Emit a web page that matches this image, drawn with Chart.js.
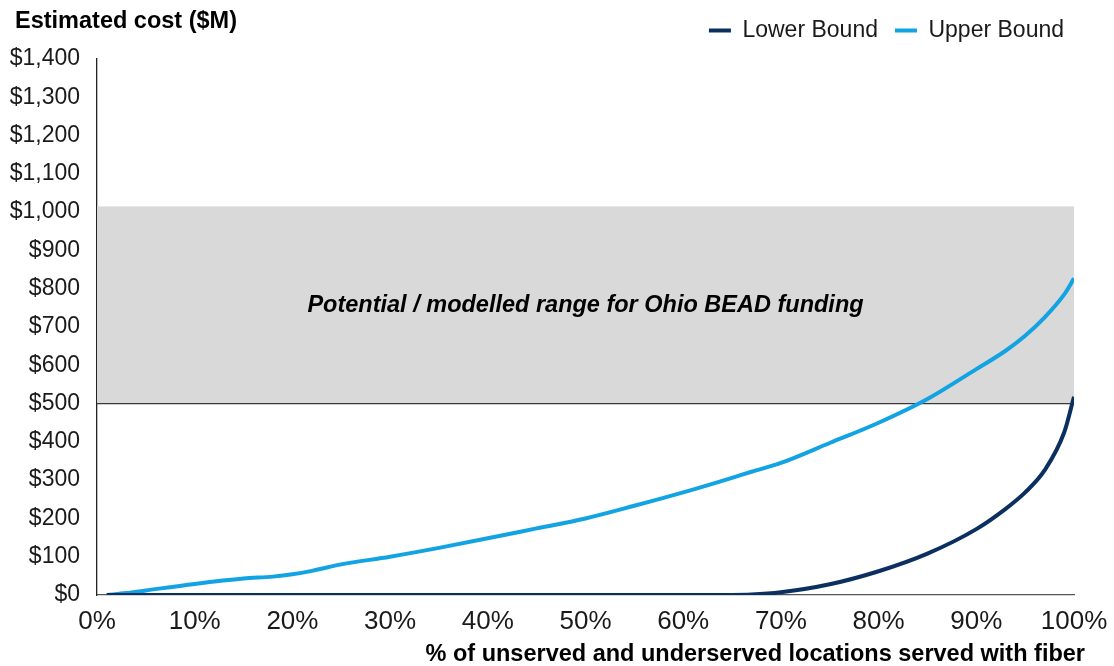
<!DOCTYPE html>
<html>
<head>
<meta charset="utf-8">
<script src="https://cdn.jsdelivr.net/npm/chart.js@4.4.1/dist/chart.umd.min.js"></script>
<style>
  html, body { margin: 0; padding: 0; background: #ffffff; }
  #wrap { width: 1114px; height: 666px; }
</style>
</head>
<body>
<div id="wrap"><canvas id="c" width="1114" height="666"></canvas></div>
<script>
// Share of unserved / underserved locations served with fiber (%)
const pctServed = [1, 3, 5, 10, 15, 18, 20, 22, 25, 30, 35, 40, 45, 50, 55, 60, 65, 67, 70, 75, 80, 85, 90, 93, 95, 97, 99, 100];
// Estimated cost ($M)
const lowerBound = [0, 0, 0, 0, 0, 0, 0, 0, 0, 0, 0, 0, 0, 0, 0, 0, 0, 1, 7, 28, 62, 108, 172, 225, 268, 326, 425, 518];
const upperBound = [0, 5, 12, 29, 43, 48, 54, 63, 80, 100, 123, 148, 174, 200, 233, 268, 306, 322, 345, 397, 450, 512, 590, 638, 677, 725, 785, 827];

// Funding range band ($M)
const bandLow = 500;
const bandHigh = 1015;
const bandLabel = 'Potential / modelled range for Ohio BEAD funding';
const bandLabelAt = { x: 50, y: 755 };

const yTickMin = 0, yTickMax = 1400, yTickStep = 100;
const xTickMin = 0, xTickMax = 100, xTickStep = 10;

const yTitle = 'Estimated cost ($M)';
const xTitle = '% of unserved and underserved locations served with fiber';

const FONT = '"Liberation Sans", Arial, sans-serif';

const bandPlugin = {
  id: 'fundingBand',
  beforeLayout(chart) {
    // extra gap between the legend row and the plot
    const lg = chart.legend;
    if (lg && !lg._extraGap) {
      const baseFit = lg.fit;
      lg.fit = function () { baseFit.call(this); this.height += 7; };
      lg._extraGap = true;
    }
  },
  beforeDatasetsDraw(chart) {
    const { ctx, chartArea, scales } = chart;
    const yTop = scales.y.getPixelForValue(bandHigh);
    const yBot = scales.y.getPixelForValue(bandLow);
    ctx.save();
    ctx.fillStyle = '#d9d9d9';
    ctx.fillRect(chartArea.left, yTop, chartArea.right - chartArea.left, yBot - yTop);
    ctx.strokeStyle = '#3a3a3a';
    ctx.lineWidth = 1.3;
    ctx.beginPath();
    ctx.moveTo(chartArea.left, yBot);
    ctx.lineTo(chartArea.right, yBot);
    ctx.stroke();
    ctx.fillStyle = '#000000';
    ctx.font = 'italic bold 23.5px ' + FONT;
    ctx.textAlign = 'center';
    ctx.textBaseline = 'middle';
    ctx.fillText(bandLabel, scales.x.getPixelForValue(bandLabelAt.x), scales.y.getPixelForValue(bandLabelAt.y));
    ctx.restore();
  },
  afterDraw(chart) {
    const { ctx, chartArea } = chart;
    ctx.save();
    ctx.fillStyle = '#000000';
    ctx.font = 'bold 23.5px ' + FONT;
    ctx.textBaseline = 'middle';
    ctx.textAlign = 'left';
    ctx.fillText(yTitle, 15, 22);
    ctx.textAlign = 'right';
    ctx.fillText(xTitle, chartArea.right + 11, 655);
    ctx.restore();
  }
};

const toPoints = (vals) => pctServed.map((p, i) => ({ x: p, y: vals[i] }));

new Chart(document.getElementById('c'), {
  type: 'line',
  data: {
    datasets: [
      {
        label: 'Lower Bound',
        data: toPoints(lowerBound),
        borderColor: '#0b2f5e',
        backgroundColor: '#0b2f5e',
        borderWidth: 4,
        pointRadius: 0,
        cubicInterpolationMode: 'monotone'
      },
      {
        label: 'Upper Bound',
        data: toPoints(upperBound),
        borderColor: '#12a3e3',
        backgroundColor: '#12a3e3',
        borderWidth: 4,
        pointRadius: 0,
        cubicInterpolationMode: 'monotone'
      }
    ]
  },
  options: {
    responsive: false,
    animation: false,
    layout: { padding: { left: 0, right: 33, top: 2, bottom: 29 } },
    plugins: {
      tooltip: { enabled: false },
      legend: {
        position: 'top',
        align: 'end',
        labels: {
          boxWidth: 22,
          boxHeight: 4,
          padding: 17,
          color: '#1a1a1a',
          font: { family: FONT, size: 23 },
          generateLabels(chart) {
            return Chart.defaults.plugins.legend.labels.generateLabels(chart).map(l => ({ ...l, lineWidth: 0 }));
          }
        }
      }
    },
    scales: {
      x: {
        type: 'linear',
        min: xTickMin,
        max: xTickMax,
        border: { display: true, color: '#555555', width: 1.3 },
        grid: { display: false, drawTicks: false },
        ticks: {
          stepSize: xTickStep,
          padding: 11,
          color: '#1a1a1a',
          font: { family: FONT, size: 26 },
          callback: (v) => v + '%'
        },
        afterFit(scale) {
          scale.height = 42;
          scale.paddingRight = 40;
        }
      },
      y: {
        min: yTickMin,
        max: yTickMax,
        border: { display: true, color: '#222222', width: 1.3 },
        grid: { display: false, drawTicks: false },
        ticks: {
          stepSize: yTickStep,
          padding: 17,
          color: '#1a1a1a',
          font: { family: FONT, size: 23 },
          callback: (v) => '$' + v.toLocaleString('en-US')
        },
        afterFit(scale) {
          scale.width = 97;
        }
      }
    }
  },
  plugins: [bandPlugin]
});
</script>
</body>
</html>
